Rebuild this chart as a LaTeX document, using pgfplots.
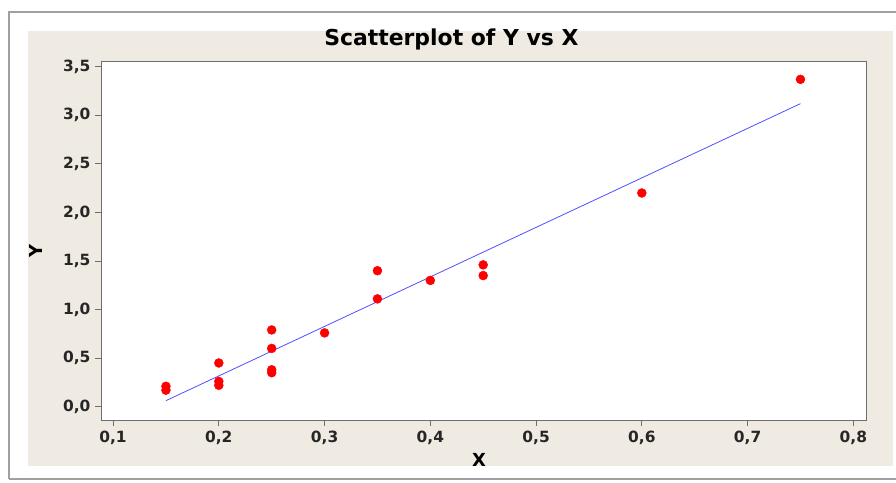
\documentclass[border=0pt]{standalone}
\usepackage{pgfplots}
\pgfplotsset{compat=1.18}
\usepackage{fontspec}
\setmainfont{DejaVu Sans}
\definecolor{panel}{RGB}{239,235,226}
\definecolor{framegray}{RGB}{160,160,160}
\definecolor{axgray}{RGB}{110,110,110}
\definecolor{fitblue}{RGB}{80,80,255}
\begin{document}
\begin{tikzpicture}[x=1bp,y=1bp]
\useasboundingbox (0,0) rectangle (896,483);
\fill[white] (0,0) rectangle (896,483);
% outer window frame
\draw[framegray,line width=1.6bp] (9,4) -- (905,4);
\draw[framegray,line width=1.6bp] (9,4) -- (9,471) -- (905,471);
% graph panel
\fill[panel] (28,17) rectangle (893,452);
\begin{axis}[
  at={(101bp,63bp)}, anchor=south west,
  scale only axis, width=765bp, height=359bp,
  xmin=0.0886, xmax=0.812, ymin=-0.137, ymax=3.559,
  xtick={0.1,0.2,...,0.8}, ytick={0,0.5,...,3.5},
  axis background/.style={fill=white},
  axis line style={axgray, line width=0.8bp},
  tick align=outside, major tick length=6bp,
  tick style={axgray, line width=0.8bp},
  xtick pos=bottom, ytick pos=left,
  /pgf/number format/.cd, use comma, fixed, fixed zerofill, precision=1, assume math mode=true,
  /pgfplots/.cd,
  ticklabel style={font=\fontsize{15.5}{17}\selectfont\bfseries, text=black!85},
  xticklabel style={yshift=-2bp},
  yticklabel style={xshift=-1bp},
  title={Scatterplot of Y vs X},
  title style={font=\fontsize{22}{24}\selectfont\bfseries, at={(0.458,1)}, anchor=south, yshift=1bp},
  xlabel={X}, ylabel={Y},
  label style={font=\fontsize{18}{20}\selectfont\bfseries},
  xlabel style={at={(ticklabel cs:0.494)}, anchor=north, yshift=-1bp},
  ylabel style={at={(ticklabel cs:0.47)}, anchor=south, yshift=14bp},
]
\addplot[only marks, mark=*, mark size=4.5bp, mark options={fill=red, draw=red}] coordinates {
  (0.15,0.21) (0.15,0.17)
  (0.20,0.45) (0.20,0.26) (0.20,0.22)
  (0.25,0.79) (0.25,0.60) (0.25,0.38) (0.25,0.35)
  (0.30,0.76)
  (0.35,1.40) (0.35,1.11)
  (0.40,1.30)
  (0.45,1.46) (0.45,1.35)
  (0.60,2.20)
  (0.75,3.37)
};
% fitted line
\addplot[fitblue, line width=0.8bp] coordinates {(0.15,0.062) (0.75,3.12)};
\end{axis}
\end{tikzpicture}
\end{document}
